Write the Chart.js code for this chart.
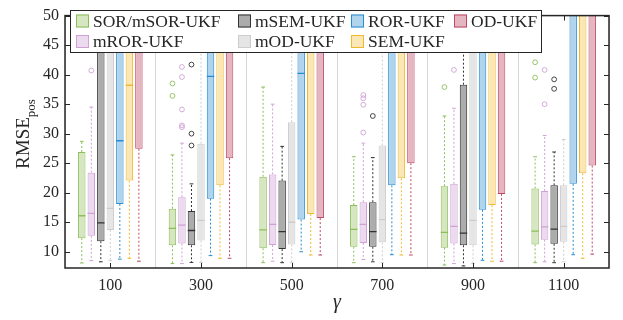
<!DOCTYPE html>
<html>
<head>
<meta charset="utf-8">
<script src="https://cdn.jsdelivr.net/npm/chart.js@4.4.1/dist/chart.umd.min.js"></script>
<style>
  html, body { margin: 0; padding: 0; background: #fff; }
</style>
</head>
<body>
<canvas id="rmseChart" width="623" height="320"></canvas>
<script>
// gamma values on the x axis
const gammas = ["100", "300", "500", "700", "900", "1100"];
const yTicks = [10, 15, 20, 25, 30, 35, 40, 45, 50];

// per gamma: [lower whisker, q1, median, q3, upper whisker]
const sorBox = [[8.1, 12.3, 16.1, 26.9, 28.7], [8.0, 11.1, 13.95, 17.3, 26.4], [8.15, 10.6, 13.7, 22.7, 37.9],
                [8.15, 10.85, 13.8, 17.9, 26.1], [7.75, 10.7, 13.3, 21.1, 33.0], [8.15, 11.25, 13.5, 20.7, 26.1]];
const mrorBox = [[8.5, 12.7, 16.5, 23.4, 34.5], [8.0, 11.4, 14.5, 19.25, 28.4], [8.4, 11.15, 14.65, 23.1, 35.0],
                 [8.7, 11.5, 14.65, 18.4, 28.4], [8.0, 11.4, 14.3, 21.5, 34.3], [8.3, 12.05, 14.2, 20.3, 29.7]];
const msemBox = [[8.3, 11.8, 14.9, 56, 62], [8.2, 11.1, 13.6, 16.9, 21.5], [8.15, 10.45, 13.4, 22.05, 27.85],
                 [8.3, 10.85, 13.4, 18.4, 25.95], [7.6, 11.1, 13.15, 38.3, 55], [8.15, 11.35, 13.85, 21.25, 26.9]];
const modBox = [[8.5, 13.7, 17.35, 56, 62], [8.2, 11.9, 15.3, 28.3, 55], [8.15, 11.25, 15.0, 31.95, 55],
                [8.15, 11.6, 15.45, 28.0, 55], [8.0, 11.1, 15.3, 56, 62], [8.3, 11.7, 14.3, 21.25, 29.0]];
const rorBox = [[8.75, 18.1, 28.8, 56, 62], [9.35, 19.0, 39.7, 56, 62], [10.0, 15.45, 40.2, 56, 62],
                [9.5, 21.25, 53, 58, 64], [8.55, 17.1, 53, 58, 64], [9.5, 21.5, 53, 58, 64]];
const semBox = [[8.9, 22.05, 38.2, 56, 62], [8.9, 21.25, 53, 58, 64], [9.45, 16.4, 53, 58, 64],
                [9.45, 22.45, 53, 58, 64], [8.4, 17.9, 53, 58, 64], [8.9, 23.3, 53, 58, 64]];
const odBox = [[8.4, 27.45, 53, 58, 64], [8.9, 25.85, 53, 58, 64], [9.45, 15.7, 53, 58, 64],
               [9.45, 25.0, 53, 58, 64], [8.4, 19.8, 53, 58, 64], [9.6, 24.6, 53, 58, 64]];

// outliers per gamma
const sorOut = [[], [36.4, 38.5], [], [], [37.9], [39.5, 42.1]];
const mrorOut = [[40.7], [31.1, 31.4, 34.1, 39.6, 41.3], [], [30.2, 34.9, 36.0, 36.55], [40.8], [35.0, 40.8]];
const msemOut = [[], [28.0, 30.0, 41.7], [], [33.0], [], [37.6, 39.2]];
const modOut = [[], [], [], [], [], []];
const rorOut = [[], [], [], [], [], []];
const semOut = [[], [], [], [], [], []];
const odOut = [[], [], [], [], [], []];

const methods = ["SOR/mSOR-UKF", "mROR-UKF", "mSEM-UKF", "mOD-UKF", "ROR-UKF", "SEM-UKF", "OD-UKF"];
const boxes = [sorBox, mrorBox, msemBox, modBox, rorBox, semBox, odBox];
const outliers = [sorOut, mrorOut, msemOut, modOut, rorOut, semOut, odOut];
const edgeColors = ["rgb(140,190,90)", "rgb(208,160,214)", "rgb(50,50,50)", "rgb(205,205,205)",
                    "rgb(40,140,210)", "rgb(240,185,50)", "rgb(192,70,100)"];
const fillColors = ["rgb(214,230,192)", "rgb(236,218,238)", "rgb(172,172,172)", "rgb(229,229,229)",
                    "rgb(176,212,236)", "rgb(251,230,182)", "rgb(227,182,193)"];

const ink = "#262626";
const serif = "'Liberation Serif', 'DejaVu Serif', serif";

const datasets = methods.map((name, i) => ({
  label: name,
  data: boxes[i].map(b => [b[1], b[3]]),
  stats: boxes[i],
  outliers: outliers[i],
  backgroundColor: fillColors[i],
  borderColor: edgeColors[i],
  borderWidth: 1,
  borderSkipped: false,
  barPercentage: 0.78,
  categoryPercentage: 0.735
}));

// whiskers, medians and outliers on top of the q1..q3 bars
const boxParts = {
  id: "boxParts",
  afterDatasetsDraw(chart) {
    const { ctx, chartArea: a, scales: { y } } = chart;
    ctx.save();
    ctx.beginPath();
    ctx.rect(a.left, a.top, a.right - a.left, a.bottom - a.top);
    ctx.clip();
    chart.data.datasets.forEach((ds, i) => {
      const meta = chart.getDatasetMeta(i);
      meta.data.forEach((bar, j) => {
        const [lo, q1, med, q3, hi] = ds.stats[j];
        const x = bar.x, w = bar.width;
        ctx.strokeStyle = ds.borderColor;
        ctx.lineWidth = 1;
        ctx.setLineDash([2, 2]);
        ctx.beginPath();
        ctx.moveTo(x, y.getPixelForValue(q3));
        ctx.lineTo(x, y.getPixelForValue(hi));
        ctx.moveTo(x, y.getPixelForValue(q1));
        ctx.lineTo(x, y.getPixelForValue(lo));
        ctx.stroke();
        ctx.setLineDash([]);
        ctx.beginPath();
        ctx.moveTo(x - w * 0.25, y.getPixelForValue(hi));
        ctx.lineTo(x + w * 0.25, y.getPixelForValue(hi));
        ctx.moveTo(x - w * 0.25, y.getPixelForValue(lo));
        ctx.lineTo(x + w * 0.25, y.getPixelForValue(lo));
        ctx.stroke();
        ctx.lineWidth = 1.3;
        ctx.beginPath();
        ctx.moveTo(x - w / 2, y.getPixelForValue(med));
        ctx.lineTo(x + w / 2, y.getPixelForValue(med));
        ctx.stroke();
        ctx.lineWidth = 0.9;
        ds.outliers[j].forEach(v => {
          ctx.beginPath();
          ctx.arc(x, y.getPixelForValue(v), 2.4, 0, Math.PI * 2);
          ctx.stroke();
        });
      });
    });
    ctx.restore();
  },
  afterDraw(chart) {
    const { ctx, chartArea: a, scales: { x, y } } = chart;
    ctx.save();
    // axes box with inward ticks
    ctx.strokeStyle = ink;
    ctx.lineWidth = 1;
    ctx.beginPath();
    y.ticks.forEach(t => {
      const py = Math.round(y.getPixelForValue(t.value)) + 0.5;
      ctx.moveTo(a.left, py); ctx.lineTo(a.left + 5, py);
      ctx.moveTo(a.right, py); ctx.lineTo(a.right - 5, py);
    });
    gammas.forEach((g, k) => {
      const px = Math.round(x.getPixelForValue(k)) + 0.5;
      ctx.moveTo(px, a.bottom); ctx.lineTo(px, a.bottom - 5);
      ctx.moveTo(px, a.top); ctx.lineTo(px, a.top + 5);
    });
    ctx.stroke();
    ctx.lineWidth = 1.5;
    ctx.strokeRect(a.left, a.top, a.right - a.left, a.bottom - a.top);

    // legend, four columns filled down each column
    const lx = [76, 238, 351, 454];
    const ly = [21, 41.5];
    ctx.fillStyle = "#fff";
    ctx.fillRect(70, 10, 471, 42);
    ctx.lineWidth = 1;
    ctx.strokeStyle = ink;
    ctx.strokeRect(70.5, 10.5, 471, 42);
    ctx.font = "17.5px " + serif;
    ctx.textBaseline = "middle";
    ctx.textAlign = "left";
    chart.data.datasets.forEach((ds, i) => {
      const col = Math.floor(i / 2), row = i % 2;
      const sx = lx[col], sy = ly[row];
      ctx.fillStyle = ds.backgroundColor;
      ctx.fillRect(sx, sy - 6.5, 13, 13);
      ctx.strokeStyle = ds.borderColor;
      ctx.strokeRect(sx + 0.5, sy - 6, 12, 12);
      ctx.fillStyle = ink;
      ctx.fillText(ds.label, sx + 17, sy + 1);
    });

    // axis titles
    ctx.fillStyle = ink;
    ctx.textBaseline = "alphabetic";
    ctx.font = "italic 20px " + serif;
    ctx.textAlign = "center";
    ctx.fillText("γ", (a.left + a.right) / 2, 308);

    ctx.translate(28.5, 134);
    ctx.rotate(-Math.PI / 2);
    ctx.textAlign = "left";
    ctx.font = "19px " + serif;
    const w1 = ctx.measureText("RMSE").width;
    ctx.font = "13px " + serif;
    const w2 = ctx.measureText("pos").width;
    const sx = -(w1 + w2) / 2;
    ctx.font = "19px " + serif;
    ctx.fillText("RMSE", sx, 0);
    ctx.font = "13px " + serif;
    ctx.fillText("pos", sx + w1, 6);
    ctx.restore();
  }
};

new Chart(document.getElementById("rmseChart").getContext("2d"), {
  type: "bar",
  data: { labels: gammas, datasets: datasets },
  options: {
    responsive: false,
    devicePixelRatio: 1,
    animation: false,
    layout: { padding: { left: 0, right: 14, top: 5, bottom: 0 } },
    plugins: { legend: { display: false }, tooltip: { enabled: false } },
    scales: {
      x: {
        grid: { display: true, offset: true, color: "#d6d6d6", lineWidth: 1, drawTicks: false },
        border: { display: false },
        ticks: { color: ink, font: { family: serif, size: 16 }, padding: 8 },
        afterFit: s => { s.height = 52; }
      },
      y: {
        min: 7.25,
        max: 50,
        afterBuildTicks: s => { s.ticks = yTicks.map(v => ({ value: v })); },
        grid: { display: false, drawTicks: false },
        border: { display: false },
        ticks: { color: ink, font: { family: serif, size: 16 }, padding: 6 },
        afterFit: s => { s.width = 65; }
      }
    }
  },
  plugins: [boxParts]
});
</script>
</body>
</html>
